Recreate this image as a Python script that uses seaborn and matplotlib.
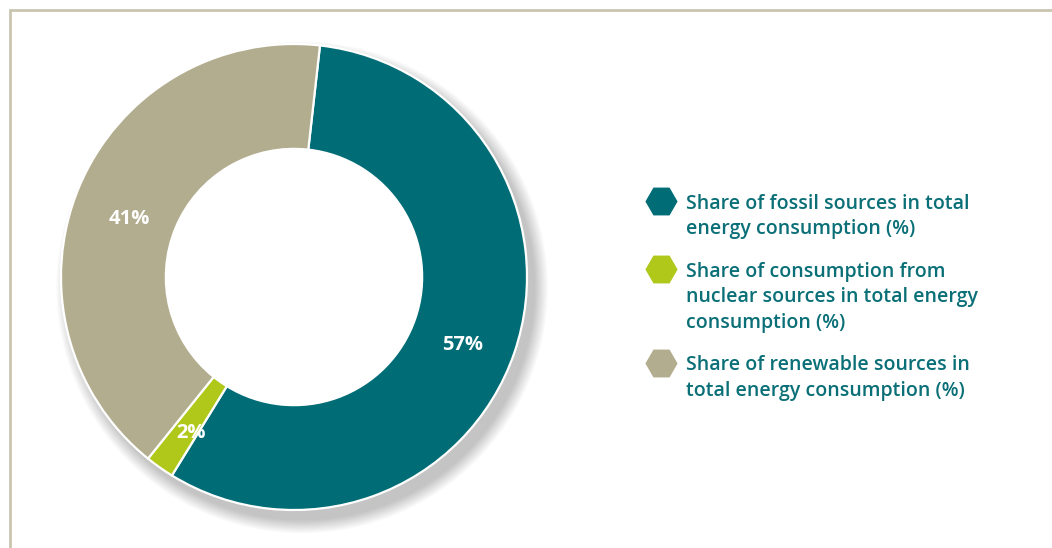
import matplotlib
matplotlib.use("Agg")
import matplotlib.pyplot as plt
from matplotlib.patches import Wedge
import seaborn as sns

# ---- data ----
categories = [
    "Share of fossil sources in total\nenergy consumption (%)",
    "Share of consumption from\nnuclear sources in total energy\nconsumption (%)",
    "Share of renewable sources in\ntotal energy consumption (%)",
]
values = [57, 2, 41]
value_labels = ["57%", "2%", "41%"]
colors = ["#006d76", "#afc81a", "#b3ad8f"]

sns.set_theme(style="white")
plt.rcParams["font.family"] = ["Open Sans", "DejaVu Sans"]

W, H = 1052, 548
fig = plt.figure(figsize=(W / 100, H / 100), dpi=100)
fig.patch.set_facecolor("white")

# frame lines (top and left)
bg = fig.add_axes([0, 0, 1, 1])
bg.set_xlim(0, W)
bg.set_ylim(H, 0)
bg.axis("off")
bg.plot([9, W], [9.5, 9.5], color="#c9c5b0", lw=2, solid_capstyle="butt")
bg.plot([9.5, 9.5], [9, H], color="#c9c5b0", lw=2, solid_capstyle="butt")

# donut axes (extent larger than donut so the shadow is not clipped)
cx, cy, R = 294, 277, 233
pad = 1.15
ax = fig.add_axes([(cx - R * pad) / W, (H - cy - R * pad) / H,
                   2 * R * pad / W, 2 * R * pad / H])
ax.set_aspect("equal")
ax.axis("off")

# soft drop shadow on the outer rim (towards bottom-right)
for i in range(12):
    r = 1.0 + 0.005 * i
    ax.add_patch(Wedge((0.035, -0.045), r, 0, 360, width=0.08 + 0.005 * i,
                       facecolor="black", alpha=0.02, lw=0, zorder=0))

start = 90 - 6.4
wedges, texts, autotexts = ax.pie(
    values, colors=colors, startangle=start, counterclock=False, radius=1,
    wedgeprops=dict(width=0.45, edgecolor="white", linewidth=1.6),
    autopct=lambda p: "", pctdistance=0.765,
)
for w in wedges:
    w.set_zorder(2)
for at, lab in zip(autotexts, value_labels):
    at.set_text(lab)
    at.set_color("white")
    at.set_fontsize(14.5)
    at.set_fontweight("bold")
    at.set_va("top")
    at.set_zorder(3)
ax.set_xlim(-pad, pad)
ax.set_ylim(-pad, pad)

# legend (manual, hexagon markers aligned with first line)
text_color = "#0a6f77"
line_h = 25.5
y0 = 201
gap = 17
y = y0
for cat, col in zip(categories, colors):
    nlines = cat.count("\n") + 1
    bg.plot([661], [y], marker="H", markersize=22, color=col, mec=col, lw=0)
    bg.text(686, y - 7, cat, color=text_color, fontsize=14, fontweight="semibold",
            va="top", ha="left", linespacing=1.36)
    y += nlines * line_h + gap

fig.savefig("out.png", dpi=100, facecolor="white")
